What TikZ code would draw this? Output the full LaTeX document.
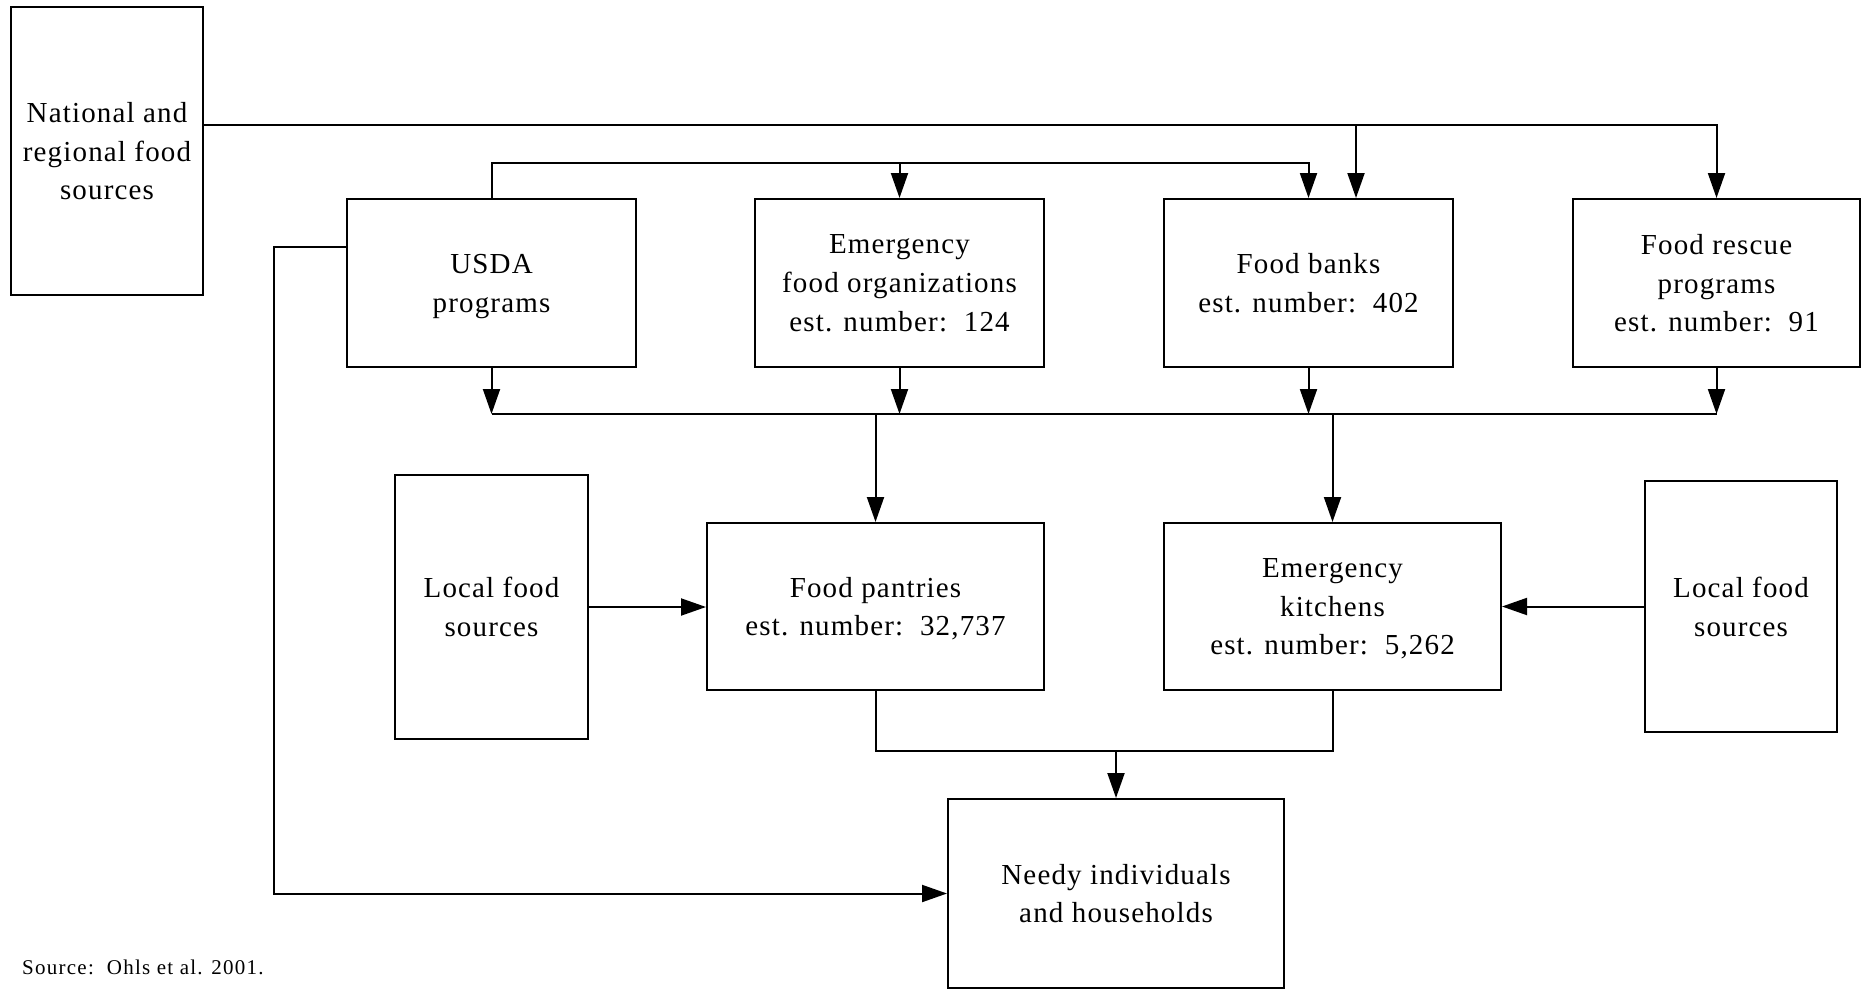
\documentclass[tikz,border=0pt]{standalone}
\usepackage{fontspec}
\setmainfont{Liberation Serif}[LetterSpace=4]
\usetikzlibrary{arrows.meta,calc}
\begin{document}
\begin{tikzpicture}[x=1pt,y=1pt,
  box/.style={draw,line width=2pt,rectangle,inner sep=0pt,align=center,text depth=0pt,
    font=\fontsize{29}{38.8}\selectfont},
  conn/.style={line width=2pt},
  arr/.style={line width=2pt,-{Triangle[length=25pt,width=17pt]}}]
\useasboundingbox (0,0) rectangle (1870,-990);
% nodes
\node[box,minimum width=192pt,minimum height=288pt] (nat) at (107,-151) {National and\\regional food\\sources};
\node[box,minimum width=289pt,minimum height=168pt] (usda) at (491.5,-283) {USDA\\programs};
\node[box,minimum width=289pt,minimum height=168pt] (efo) at (899.5,-283) {Emergency\\food organizations\\est. number:\ \ 124};
\node[box,minimum width=289pt,minimum height=168pt] (fb) at (1308.5,-283) {Food banks\\est. number:\ \ 402};
\node[box,minimum width=287pt,minimum height=168pt] (fr) at (1716.5,-283) {Food rescue\\programs\\est. number:\ \ 91};
\node[box,minimum width=193pt,minimum height=264pt] (lfl) at (491.5,-607) {Local food\\sources};
\node[box,minimum width=337pt,minimum height=167pt] (fp) at (875.5,-606.5) {Food pantries\\est. number:\ \ 32,737};
\node[box,minimum width=337pt,minimum height=167pt] (ek) at (1332.5,-606.5) {Emergency\\kitchens\\est. number:\ \ 5,262};
\node[box,minimum width=192pt,minimum height=251pt] (lfr) at (1741,-606.5) {Local food\\sources};
\node[box,text depth=-4pt,minimum width=336pt,minimum height=189pt] (needy) at (1116,-893.5) {Needy individuals\\and households};
\node[anchor=base west,inner sep=0pt,font=\fontsize{21}{25}\selectfont\addfontfeature{LetterSpace=6}] (src) at (22,-974) {Source:\ \ Ohls et al. 2001.};
% helper coordinates
\coordinate (topy) at (0,-125);
\coordinate (usy) at (0,-163);
\coordinate (busy) at (0,-414);
\coordinate (boty) at (0,-751);
\coordinate (fbb) at ([xshift=47.5pt]fb.north);
% top line from national sources
\draw[arr] ([yshift=26pt]nat.east) -| (fr.north);
\draw[arr] (fbb |- topy) -- (fbb);
% USDA line
\draw[arr] (usda.north) |- (efo.north |- usy) -| (fb.north);
\draw[arr] (efo.north |- usy) -- (efo.north);
% bus
\draw[conn] (usda.south |- busy) -- (fr.south |- busy);
\draw[arr] (usda.south) -- (usda.south |- busy);
\draw[arr] (efo.south) -- (efo.south |- busy);
\draw[arr] (fb.south) -- (fb.south |- busy);
\draw[arr] (fr.south) -- (fr.south |- busy);
\draw[arr] (fp.north |- busy) -- (fp.north);
\draw[arr] (ek.north |- busy) -- (ek.north);
% local sources
\draw[arr] (lfl.east) -- (lfl.east -| fp.west);
\draw[arr] (lfr.west) -- (lfr.west -| ek.east);
% to needy
\draw[conn] (fp.south) |- (ek.south |- boty) -- (ek.south);
\draw[arr] (needy.north |- boty) -- (needy.north);
\draw[arr] ([yshift=36pt]usda.west) -- ++(-72,0) |- (needy.west);
\end{tikzpicture}
\end{document}
